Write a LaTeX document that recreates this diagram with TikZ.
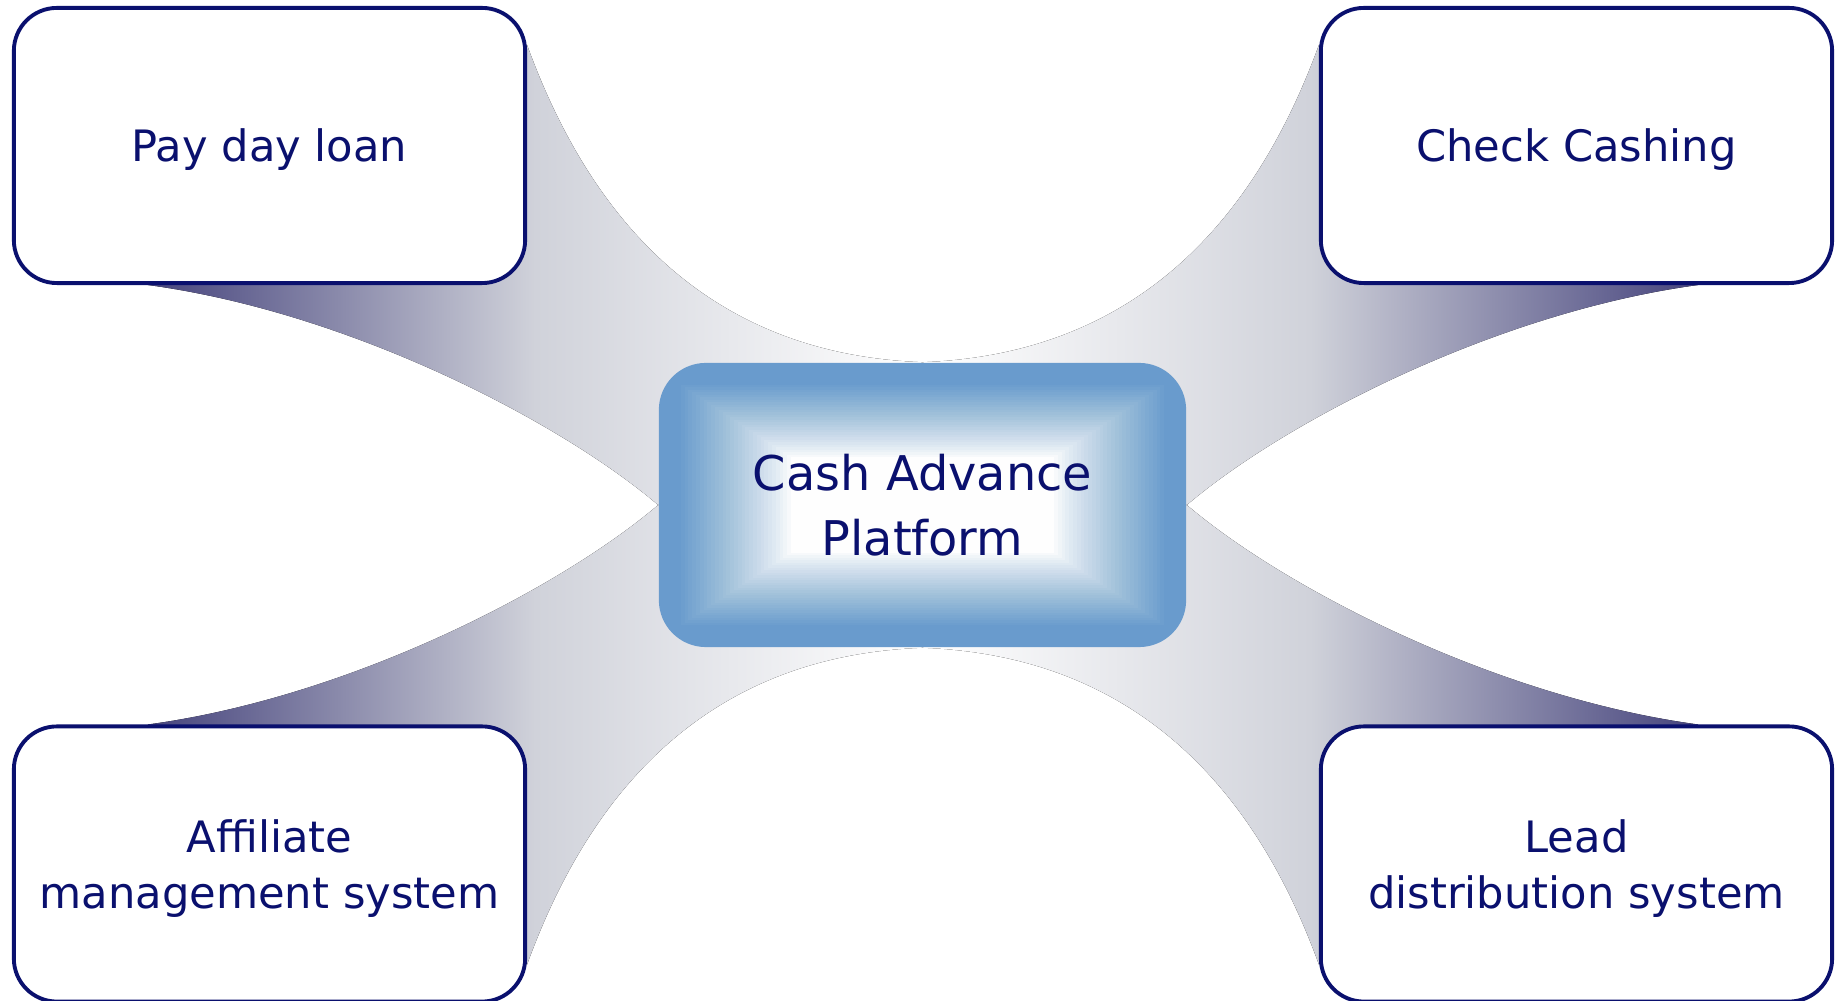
\documentclass[tikz,border=0pt]{standalone}
\usepackage{fontspec}
\setmainfont{DejaVu Sans}
\usepackage{tikz}
\usetikzlibrary{positioning,calc,backgrounds}
\definecolor{deepnavy}{RGB}{10,16,110}
\definecolor{bandnavy}{RGB}{70,68,125}
\definecolor{bandgray}{RGB}{208,210,218}
\definecolor{capblue}{RGB}{105,155,205}

\begin{document}
\begin{tikzpicture}[x=0.01cm,y=-0.01cm,
  outerbox/.style={draw=deepnavy,line width=1.1pt,fill=white,rounded corners=0.43cm,
    minimum width=5.11cm,minimum height=2.75cm,inner sep=0pt,align=center,
    text depth=0pt,text=deepnavy,font=\fontsize{12.3}{16}\selectfont},
  capbox/.style={fill=capblue,rounded corners=0.47cm,minimum width=5.27cm,
    minimum height=2.84cm,inner sep=0pt,align=center,text=deepnavy,
    font=\fontsize{13.6}{18.5}\selectfont,
    path picture={\foreach \k [evaluate=\k as \op using {0.95/(30-\k)}] in {0,...,29}
      \fill[white,opacity=\op,sharp corners]
        ($(path picture bounding box.north west)+(22+3.8*\k,22+2.5*\k)$) rectangle
        ($(path picture bounding box.south east)-(22+3.8*\k,22+2.5*\k)$);}},
  bandleft/.style={left color=bandnavy,right color=white,middle color=bandgray},
  bandright/.style={left color=white,right color=bandnavy,middle color=bandgray}]
\useasboundingbox (0,0) rectangle (1841,1001);

% Outer boxes
\node[outerbox] (pay) at (269.5,145.5) {Pay day loan};
\node[outerbox] (chk) at (1576.5,145.5) {Check Cashing};
\node[outerbox] (aff) at (269.5,864) {Affiliate\\management system};
\node[outerbox] (lead) at (1576.5,864) {Lead\\distribution system};

% Platform
\node[capbox] (cap) at (922.5,505) {Cash Advance\\Platform};

% Bands
\begin{scope}[on background layer]
\fill[bandleft] ($(pay.north east)+(0,39)$) .. controls +(60,165) and +(-222,-8) .. (cap.north)
  -- (cap.west) .. controls +(-100,-85) and +(200,27) .. ($(pay.south west)+(136,0)$) -- cycle;
\fill[bandright] ($(chk.north west)+(0,39)$) .. controls +(-60,165) and +(222,-8) .. (cap.north)
  -- (cap.east) .. controls +(100,-85) and +(-200,27) .. ($(chk.south east)+(-136,0)$) -- cycle;
\fill[bandleft] ($(aff.south east)+(0,-39)$) .. controls +(60,-165) and +(-222,8) .. (cap.south)
  -- (cap.west) .. controls +(-100,85) and +(200,-27) .. ($(aff.north west)+(136,0)$) -- cycle;
\fill[bandright] ($(lead.south west)+(0,-39)$) .. controls +(-60,-165) and +(222,8) .. (cap.south)
  -- (cap.east) .. controls +(100,85) and +(-200,-27) .. ($(lead.north east)+(-136,0)$) -- cycle;
\end{scope}
\end{tikzpicture}
\end{document}
